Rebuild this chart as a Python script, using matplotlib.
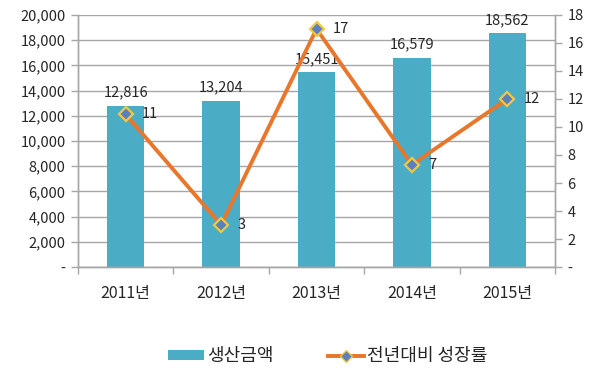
import numpy as np
import matplotlib.pyplot as plt
from matplotlib.lines import Line2D
from matplotlib.patches import Patch

plt.rcParams['font.family'] = ['Noto Sans CJK KR', 'DejaVu Sans']

# 데이터
years = ['2011년', '2012년', '2013년', '2014년', '2015년']
production = [12816, 13204, 15451, 16579, 18562]
growth = [10.9, 3.0, 17.0, 7.3, 12.0]

bar_color = '#4BACC6'
line_color = '#E8762B'
grid_color = '#A6A6A6'
text_color = '#262626'

fig = plt.figure(figsize=(6, 3.71), dpi=100)
ax = fig.add_axes([0.13, 0.2803, 0.795, 0.6793])
ax2 = ax.twinx()

x = np.arange(len(years))
ax.bar(x, production, width=0.39, color=bar_color, zorder=2)
ax.set_xlim(-0.5, len(years) - 0.5)
ax.set_ylim(0, 20000)
ax.set_yticks(np.arange(0, 20001, 2000))
ax.set_yticklabels(['-'] + [f'{v:,}' for v in range(2000, 20001, 2000)])
ax.grid(axis='y', color=grid_color, linewidth=1, zorder=0)
ax.set_axisbelow(True)

ax.set_xticks(x)
ax.set_xticklabels(years)
ax.set_xticks(np.arange(-0.5, len(years), 1), minor=True)
ax.tick_params(axis='x', which='major', length=0, pad=13, labelsize=11.5, colors=text_color)
ax.tick_params(axis='x', which='minor', length=5, color=grid_color, width=1)
ax.tick_params(axis='y', length=5, color=grid_color, width=1, labelsize=10.5, labelcolor=text_color, pad=4)

for v, xi in zip(production, x):
    ax.text(xi, v + 500, f'{v:,}', ha='center', va='bottom', fontsize=10.5, color=text_color, zorder=3)

ax2.plot(x, growth, color=line_color, linewidth=2.8, marker='D', markersize=7,
         markerfacecolor='#5A80BE', markeredgecolor='#F2C744', markeredgewidth=1.6, zorder=4)
ax2.set_ylim(0, 18)
ax2.set_yticks(np.arange(0, 19, 2))
ax2.set_yticklabels(['-'] + [str(v) for v in range(2, 19, 2)])
ax2.tick_params(axis='y', length=5, color=grid_color, width=1, labelsize=10.5, labelcolor=text_color, pad=4)

for v, xi in zip(growth, x):
    ax2.text(xi + 0.17, v, f'{v:.0f}', ha='left', va='center', fontsize=10.5, color=text_color, zorder=5)

for a in (ax, ax2):
    a.spines['top'].set_visible(False)
    for s in ('left', 'right', 'bottom'):
        a.spines[s].set_color(grid_color)
        a.spines[s].set_linewidth(1)

handles = [Patch(facecolor=bar_color, label='생산금액'),
           Line2D([0], [0], color=line_color, linewidth=2.8, marker='D', markersize=6,
                  markerfacecolor='#5A80BE', markeredgecolor='#F2C744', label='전년대비 성장률')]
fig.legend(handles=handles, loc='center', bbox_to_anchor=(0.546, 0.04), ncol=2, frameon=False,
           fontsize=13, handlelength=2.0, handleheight=0.45, columnspacing=3.0, handletextpad=0.15,
           labelcolor=text_color)

fig.savefig('out.png', dpi=100)
